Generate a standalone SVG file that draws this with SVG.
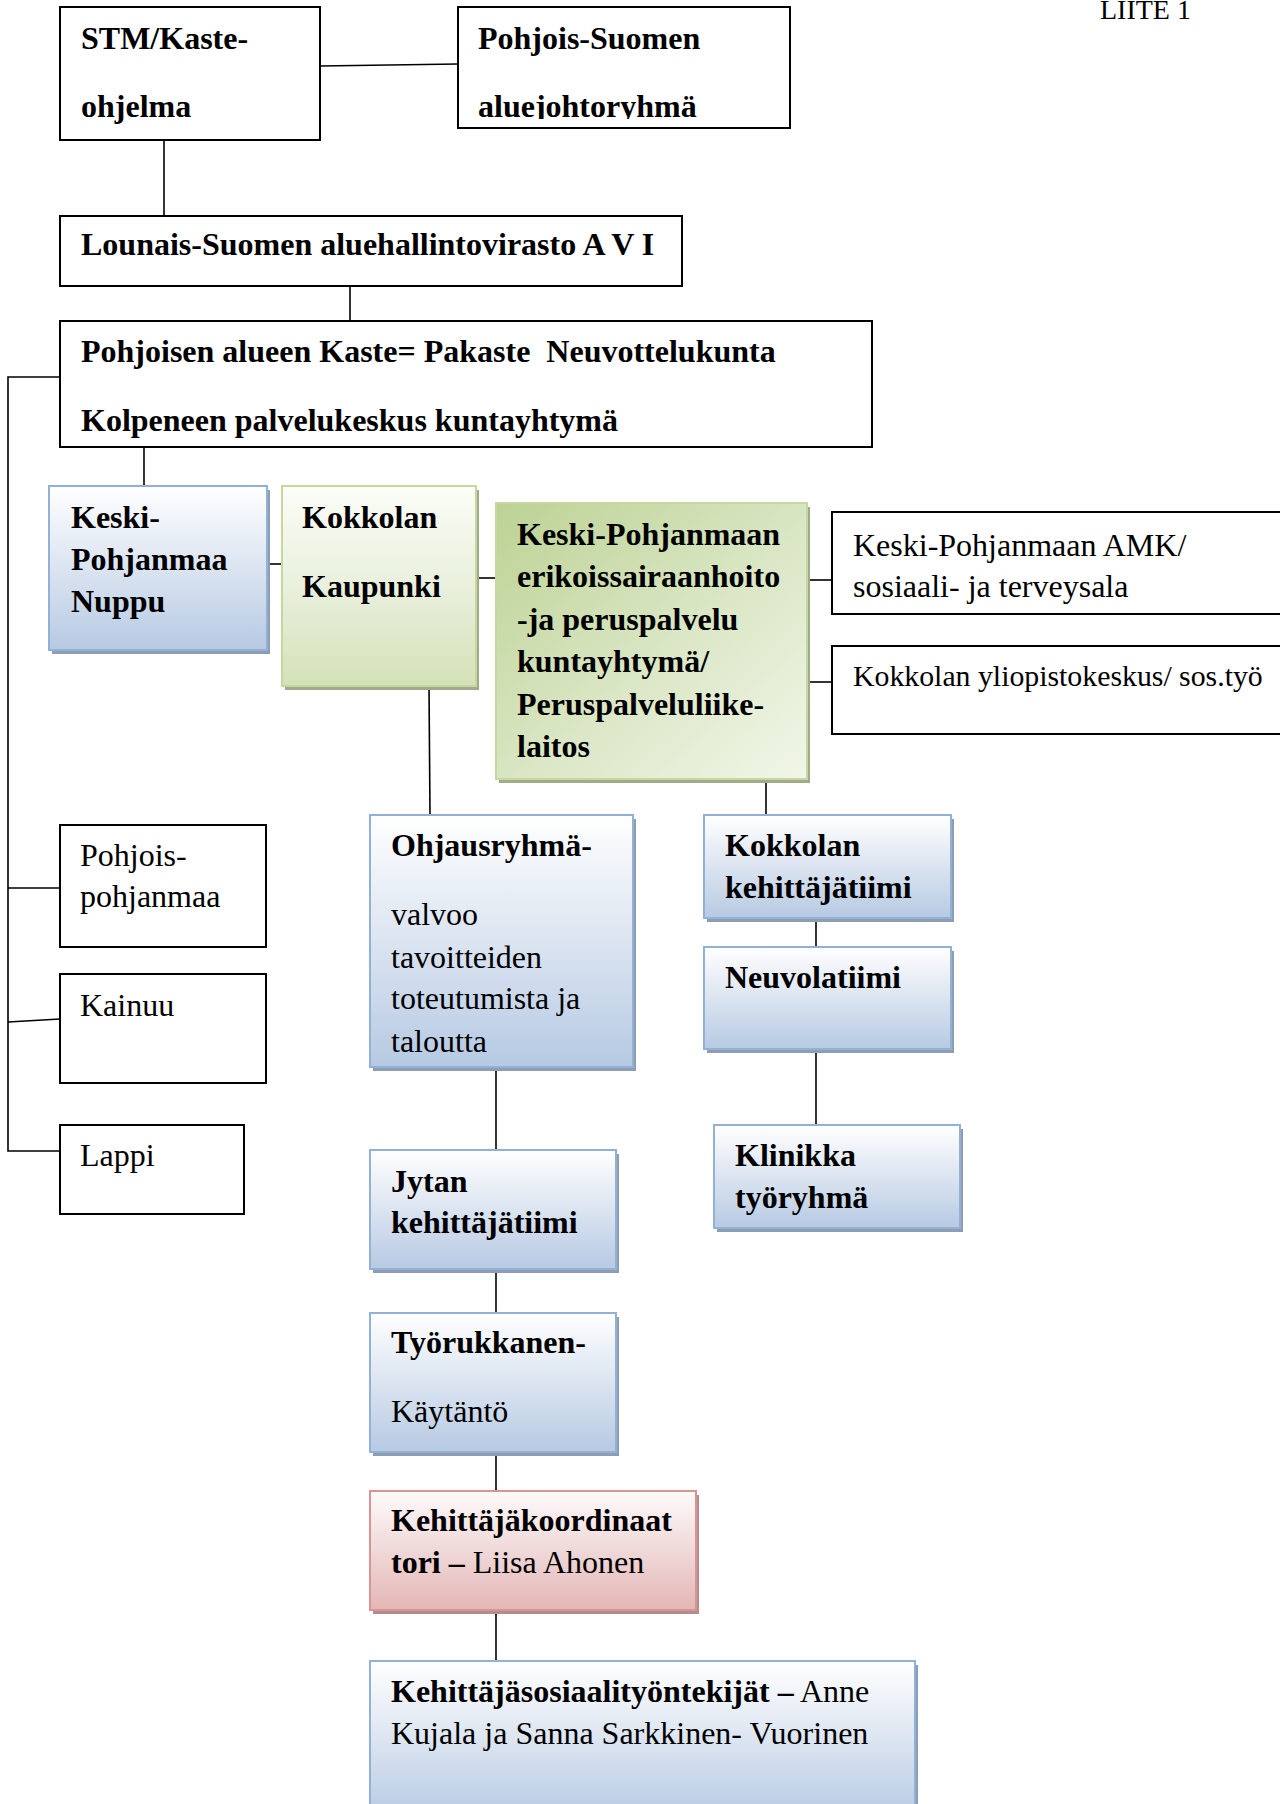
<svg xmlns="http://www.w3.org/2000/svg" width="1280" height="1804" viewBox="0 0 1280 1804">
<style>
text{font-family:"Liberation Serif","Times New Roman",serif;font-size:32px;fill:#000}
.b{font-weight:bold}
.box{fill:#fff;stroke:#000;stroke-width:2}
.con{stroke:#000;stroke-width:1.6;fill:none}
.blue{fill:url(#gBlue);stroke:#92b1d6;stroke-width:2}
.greenL{fill:url(#gGreenL);stroke:#c6d8a0;stroke-width:2}
.greenD{fill:url(#gGreenD);stroke:#c6d8a0;stroke-width:2}
.red{fill:url(#gRed);stroke:#d89593;stroke-width:2}
.shB{fill:#8e9db2}
.shG{fill:#a0ab8a}
.shR{fill:#b48c8b}
</style>
<defs>
<linearGradient id="gBlue" x1="0" y1="0" x2="0" y2="1">
<stop offset="0" stop-color="#ffffff"/>
<stop offset="0.45" stop-color="#dfe7f2"/>
<stop offset="1" stop-color="#b6cae3"/>
</linearGradient>
<linearGradient id="gGreenL" x1="0" y1="0" x2="0" y2="1">
<stop offset="0" stop-color="#fbfdf7"/>
<stop offset="0.5" stop-color="#e9f0dc"/>
<stop offset="1" stop-color="#d4e2b8"/>
</linearGradient>
<linearGradient id="gGreenD" x1="0" y1="0" x2="1" y2="1">
<stop offset="0" stop-color="#bcd293"/>
<stop offset="0.55" stop-color="#dbe7c6"/>
<stop offset="1" stop-color="#f1f6e8"/>
</linearGradient>
<linearGradient id="gRed" x1="0" y1="0" x2="0" y2="1">
<stop offset="0" stop-color="#fefafa"/>
<stop offset="0.45" stop-color="#f1dcdc"/>
<stop offset="1" stop-color="#e4b6b5"/>
</linearGradient>
<clipPath id="clipAlue"><rect x="458" y="0" width="332" height="119"/></clipPath>
</defs>

<text x="1100" y="19" style="font-size:28px">LIITE 1</text>

<g id="connectors">
<line class="con" x1="320" y1="66" x2="458" y2="64"/>
<line class="con" x1="164" y1="141" x2="164" y2="216"/>
<line class="con" x1="350" y1="286" x2="350" y2="321"/>
<polyline class="con" points="60,377 8,377 8,1151 60,1151"/>
<line class="con" x1="8" y1="888" x2="60" y2="888"/>
<line class="con" x1="8" y1="1022" x2="60" y2="1019"/>
<line class="con" x1="144" y1="447" x2="144" y2="486"/>
<line class="con" x1="267" y1="564" x2="282" y2="564"/>
<line class="con" x1="476" y1="578" x2="496" y2="578"/>
<line class="con" x1="807" y1="580" x2="832" y2="580"/>
<line class="con" x1="807" y1="682" x2="832" y2="682"/>
<line class="con" x1="429" y1="686" x2="430" y2="815"/>
<line class="con" x1="766" y1="779" x2="766" y2="815"/>
<line class="con" x1="816" y1="918" x2="816" y2="947"/>
<line class="con" x1="816" y1="1049" x2="816" y2="1125"/>
<line class="con" x1="496" y1="1067" x2="496" y2="1150"/>
<line class="con" x1="496" y1="1269" x2="496" y2="1313"/>
<line class="con" x1="496" y1="1452" x2="496" y2="1491"/>
<line class="con" x1="496" y1="1610" x2="496" y2="1661"/>
</g>

<g id="stm">
<rect class="box" x="60" y="7" width="260" height="133"/>
<text class="b" x="81" y="49">STM/Kaste-</text>
<text class="b" x="81" y="117">ohjelma</text>
</g>

<g id="pohjois-suomen">
<rect class="box" x="458" y="7" width="332" height="121"/>
<text class="b" x="478" y="49">Pohjois-Suomen</text>
<text class="b" x="478" y="117" clip-path="url(#clipAlue)">aluejohtoryhmä</text>
</g>

<g id="lounais">
<rect class="box" x="60" y="216" width="622" height="70"/>
<text class="b" x="81" y="255">Lounais-Suomen aluehallintovirasto A V I</text>
</g>

<g id="pohjoisen">
<rect class="box" x="60" y="321" width="812" height="126"/>
<text class="b" x="81" y="362">Pohjoisen alueen Kaste= Pakaste&#160; Neuvottelukunta</text>
<text class="b" x="81" y="431">Kolpeneen palvelukeskus kuntayhtymä</text>
</g>

<g id="nuppu">
<rect class="shB" x="52" y="490" width="218" height="164"/>
<rect class="blue" x="49" y="486" width="218" height="164"/>
<text class="b" x="71" y="528">Keski-</text>
<text class="b" x="71" y="570">Pohjanmaa</text>
<text class="b" x="71" y="612">Nuppu</text>
</g>

<g id="kokkolan-kaupunki">
<rect class="shG" x="285" y="490" width="194" height="200"/>
<rect class="greenL" x="282" y="486" width="194" height="200"/>
<text class="b" x="302" y="528">Kokkolan</text>
<text class="b" x="302" y="597">Kaupunki</text>
</g>

<g id="erikoissairaanhoito">
<rect class="shG" x="499" y="507" width="311" height="276"/>
<rect class="greenD" x="496" y="503" width="311" height="276"/>
<text class="b" x="517" y="545">Keski-Pohjanmaan</text>
<text class="b" x="517" y="587">erikoissairaanhoito</text>
<text class="b" x="517" y="630">-ja peruspalvelu</text>
<text class="b" x="517" y="672">kuntayhtymä/</text>
<text class="b" x="517" y="715">Peruspalveluliike-</text>
<text class="b" x="517" y="757">laitos</text>
</g>

<g id="amk">
<rect class="box" x="832" y="512" width="460" height="102"/>
<text x="853" y="556">Keski-Pohjanmaan AMK/</text>
<text x="853" y="597">sosiaali- ja terveysala</text>
</g>

<g id="yliopistokeskus">
<rect class="box" x="832" y="646" width="460" height="88"/>
<text x="853" y="686" style="font-size:29.8px">Kokkolan yliopistokeskus/ sos.työ</text>
</g>

<g id="pohjois-pohjanmaa">
<rect class="box" x="60" y="825" width="206" height="122"/>
<text x="80" y="866">Pohjois-</text>
<text x="80" y="907">pohjanmaa</text>
</g>

<g id="kainuu">
<rect class="box" x="60" y="974" width="206" height="109"/>
<text x="80" y="1016">Kainuu</text>
</g>

<g id="lappi">
<rect class="box" x="60" y="1125" width="184" height="89"/>
<text x="80" y="1166">Lappi</text>
</g>

<g id="ohjausryhma">
<rect class="shB" x="373" y="819" width="263" height="252"/>
<rect class="blue" x="370" y="815" width="263" height="252"/>
<text class="b" x="391" y="856">Ohjausryhmä-</text>
<text x="391" y="925">valvoo</text>
<text x="391" y="968">tavoitteiden</text>
<text x="391" y="1009">toteutumista ja</text>
<text x="391" y="1052">taloutta</text>
</g>

<g id="kokkolan-kehittajatiimi">
<rect class="shB" x="707" y="819" width="247" height="103"/>
<rect class="blue" x="704" y="815" width="247" height="103"/>
<text class="b" x="725" y="856">Kokkolan</text>
<text class="b" x="725" y="898">kehittäjätiimi</text>
</g>

<g id="neuvolatiimi">
<rect class="shB" x="707" y="951" width="247" height="102"/>
<rect class="blue" x="704" y="947" width="247" height="102"/>
<text class="b" x="725" y="988">Neuvolatiimi</text>
</g>

<g id="klinikka">
<rect class="shB" x="717" y="1129" width="246" height="103"/>
<rect class="blue" x="714" y="1125" width="246" height="103"/>
<text class="b" x="735" y="1166">Klinikka</text>
<text class="b" x="735" y="1208">työryhmä</text>
</g>

<g id="jytan">
<rect class="shB" x="373" y="1154" width="246" height="119"/>
<rect class="blue" x="370" y="1150" width="246" height="119"/>
<text class="b" x="391" y="1192">Jytan</text>
<text class="b" x="391" y="1233">kehittäjätiimi</text>
</g>

<g id="tyorukkanen">
<rect class="shB" x="373" y="1317" width="246" height="139"/>
<rect class="blue" x="370" y="1313" width="246" height="139"/>
<text class="b" x="391" y="1353">Työrukkanen-</text>
<text x="391" y="1422">Käytäntö</text>
</g>

<g id="kehittajakoordinaattori">
<rect class="shR" x="373" y="1495" width="326" height="119"/>
<rect class="red" x="370" y="1491" width="326" height="119"/>
<text class="b" x="391" y="1531">Kehittäjäkoordinaat</text>
<text x="391" y="1573"><tspan class="b">tori –</tspan> Liisa Ahonen</text>
</g>

<g id="kehittajasosiaalityontekijat">
<rect class="shB" x="373" y="1665" width="545" height="160"/>
<rect class="blue" x="370" y="1661" width="545" height="160"/>
<text x="391" y="1702"><tspan class="b">Kehittäjäsosiaalityöntekijät –</tspan> Anne</text>
<text x="391" y="1744">Kujala ja Sanna Sarkkinen- Vuorinen</text>
</g>
</svg>
